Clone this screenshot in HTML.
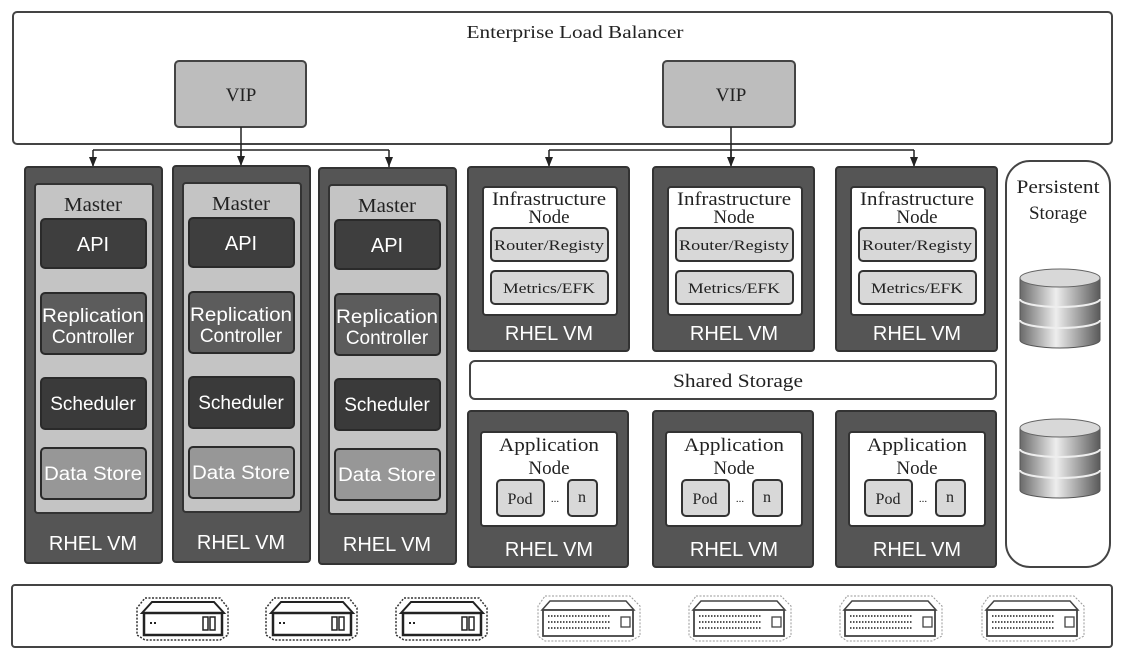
<!DOCTYPE html>
<html><head><meta charset="utf-8"><style>
body{margin:0;background:#fff}
svg{display:block}
.s{font-family:"Liberation Serif",serif;fill:#222}
.a{font-family:"Liberation Sans",sans-serif;fill:#fff}
</style></head><body>
<svg width="1135" height="667" viewBox="0 0 1135 667" xmlns="http://www.w3.org/2000/svg">
<defs>
<marker id="ar" markerWidth="10" markerHeight="8" refX="10" refY="4" orient="auto" markerUnits="userSpaceOnUse">
<path d="M0,0 L10,4 L0,8 Z" fill="#222"/></marker>
<linearGradient id="cy" x1="0" x2="1">
<stop offset="0" stop-color="#6a6a6a"/><stop offset="0.45" stop-color="#eeeeee"/><stop offset="1" stop-color="#5a5a5a"/></linearGradient>
</defs>
<!-- top LB -->
<rect x="13" y="12" width="1099" height="132" rx="4" fill="#fff" stroke="#444" stroke-width="2"/>
<text x="575" y="38" text-anchor="middle" class="s" font-size="18" textLength="217" lengthAdjust="spacingAndGlyphs">Enterprise Load Balancer</text>
<rect x="175" y="61" width="131" height="66" rx="4" fill="#bdbdbd" stroke="#444" stroke-width="2"/>
<text x="241" y="101" text-anchor="middle" class="s" font-size="19">VIP</text>
<rect x="663" y="61" width="132" height="66" rx="4" fill="#bdbdbd" stroke="#444" stroke-width="2"/>
<text x="731" y="101" text-anchor="middle" class="s" font-size="19">VIP</text>
<g stroke="#222" stroke-width="1.5" fill="none">
<path d="M241 127 V158"/><path d="M93 150 H389"/>
<path d="M93 150 V167" marker-end="url(#ar)"/><path d="M241 150 V166" marker-end="url(#ar)"/><path d="M389 150 V167" marker-end="url(#ar)"/>
<path d="M731 127 V158"/><path d="M549 150 H914"/>
<path d="M549 150 V167" marker-end="url(#ar)"/><path d="M731 150 V167" marker-end="url(#ar)"/><path d="M914 150 V167" marker-end="url(#ar)"/>
</g>
<!-- master VMs -->
<g id="m">
<rect x="25" y="167" width="137" height="396" rx="3" fill="#555" stroke="#333" stroke-width="2"/>
<rect x="35" y="184" width="118" height="329" rx="3" fill="#c4c4c4" stroke="#333" stroke-width="2"/>
<text x="93" y="211" text-anchor="middle" class="s" font-size="20" textLength="58" lengthAdjust="spacingAndGlyphs">Master</text>
<rect x="41" y="219" width="105" height="49" rx="4" fill="#3e3e3e" stroke="#2a2a2a" stroke-width="2"/>
<text x="93" y="251" text-anchor="middle" class="a" font-size="20">API</text>
<rect x="41" y="293" width="105" height="61" rx="4" fill="#5c5c5c" stroke="#2a2a2a" stroke-width="2"/>
<text x="93" y="322" text-anchor="middle" class="a" font-size="19" textLength="102" lengthAdjust="spacingAndGlyphs">Replication</text>
<text x="93" y="343" text-anchor="middle" class="a" font-size="19">Controller</text>
<rect x="41" y="378" width="105" height="51" rx="4" fill="#3a3a3a" stroke="#2a2a2a" stroke-width="2"/>
<text x="93" y="410" text-anchor="middle" class="a" font-size="19">Scheduler</text>
<rect x="41" y="448" width="105" height="51" rx="4" fill="#979797" stroke="#2a2a2a" stroke-width="2"/>
<text x="93" y="480" text-anchor="middle" class="a" font-size="19" textLength="98" lengthAdjust="spacingAndGlyphs">Data Store</text>
<text x="93" y="550" text-anchor="middle" class="a" font-size="20">RHEL VM</text>
</g>
<use href="#m" x="148" y="-1"/>
<use href="#m" x="294" y="1"/>
<!-- infra VMs -->
<g id="i">
<rect x="468" y="167" width="161" height="184" rx="3" fill="#555" stroke="#333" stroke-width="2"/>
<rect x="483" y="187" width="134" height="128" rx="3" fill="#fff" stroke="#333" stroke-width="2"/>
<text x="549" y="205" text-anchor="middle" class="s" font-size="19" textLength="114" lengthAdjust="spacingAndGlyphs">Infrastructure</text>
<text x="549" y="223" text-anchor="middle" class="s" font-size="19">Node</text>
<rect x="491" y="228" width="117" height="33" rx="4" fill="#d8d8d8" stroke="#333" stroke-width="2"/>
<text x="549" y="250" text-anchor="middle" class="s" font-size="15" textLength="110" lengthAdjust="spacingAndGlyphs">Router/Registy</text>
<rect x="491" y="271" width="117" height="33" rx="4" fill="#d8d8d8" stroke="#333" stroke-width="2"/>
<text x="549" y="293" text-anchor="middle" class="s" font-size="15" textLength="92" lengthAdjust="spacingAndGlyphs">Metrics/EFK</text>
<text x="549" y="340" text-anchor="middle" class="a" font-size="20">RHEL VM</text>
</g>
<use href="#i" x="185"/>
<use href="#i" x="368"/>
<!-- shared storage -->
<rect x="470" y="361" width="526" height="38" rx="5" fill="#fff" stroke="#444" stroke-width="2"/>
<text x="738" y="387" text-anchor="middle" class="s" font-size="19" textLength="130" lengthAdjust="spacingAndGlyphs">Shared Storage</text>
<!-- app VMs -->
<g id="p">
<rect x="468" y="411" width="160" height="156" rx="3" fill="#555" stroke="#333" stroke-width="2"/>
<rect x="481" y="432" width="136" height="94" rx="3" fill="#fff" stroke="#333" stroke-width="2"/>
<text x="549" y="451" text-anchor="middle" class="s" font-size="19" textLength="100" lengthAdjust="spacingAndGlyphs">Application</text>
<text x="549" y="474" text-anchor="middle" class="s" font-size="19">Node</text>
<rect x="497" y="480" width="47" height="36" rx="4" fill="#d8d8d8" stroke="#333" stroke-width="2"/>
<text x="520" y="504" text-anchor="middle" class="s" font-size="16">Pod</text>
<text x="555" y="502" text-anchor="middle" class="s" font-size="11">...</text>
<rect x="568" y="480" width="29" height="36" rx="4" fill="#d8d8d8" stroke="#333" stroke-width="2"/>
<text x="582" y="502" text-anchor="middle" class="s" font-size="16">n</text>
<text x="549" y="556" text-anchor="middle" class="a" font-size="20">RHEL VM</text>
</g>
<use href="#p" x="185"/>
<use href="#p" x="368"/>
<!-- persistent storage -->
<rect x="1006" y="161" width="104" height="406" rx="24" fill="#fff" stroke="#444" stroke-width="2"/>
<text x="1058" y="193" text-anchor="middle" class="s" font-size="19" textLength="83" lengthAdjust="spacingAndGlyphs">Persistent</text>
<text x="1058" y="219" text-anchor="middle" class="s" font-size="19">Storage</text>
<g id="c">
<path d="M1020 278 V340 A40 8 0 0 0 1100 340 V278 Z" fill="url(#cy)" stroke="#555"/>
<path d="M1020 299 A40 8 0 0 0 1100 299 M1020 320 A40 8 0 0 0 1100 320" fill="none" stroke="#eee" stroke-width="2"/>
<ellipse cx="1060" cy="278" rx="40" ry="9" fill="#d8d8d8" stroke="#666"/>
</g>
<use href="#c" y="150"/>
<!-- bottom hardware -->
<rect x="12" y="585" width="1100" height="62" rx="3" fill="#fff" stroke="#444" stroke-width="2"/>
<g id="sv">
<path d="M145 598 L220 598 L228 608 L228 635 L220 640 L145 640 L137 635 L137 608 Z" fill="none" stroke="#333" stroke-width="1.5" stroke-dasharray="2,1.5"/>
<path d="M142 613 L152 602 L214 602 L224 613 Z" fill="#fff" stroke="#222" stroke-width="2"/>
<rect x="144" y="613" width="78" height="22" fill="#fff" stroke="#222" stroke-width="2.5"/>
<rect x="150" y="622" width="2" height="2" fill="#222"/><rect x="154" y="622" width="2" height="2" fill="#222"/>
<rect x="203" y="617" width="5" height="13" fill="none" stroke="#222" stroke-width="1.5"/>
<rect x="210" y="617" width="5" height="13" fill="none" stroke="#222" stroke-width="1.5"/>
</g>
<use href="#sv" x="129"/>
<use href="#sv" x="259"/>
<g id="sw">
<path d="M545 596 L630 596 L640 606 L640 636 L630 641 L545 641 L538 636 L538 606 Z" fill="none" stroke="#999" stroke-width="1" stroke-dasharray="2,1.5"/>
<path d="M542 610 L550 601 L626 601 L634 610 Z" fill="#fff" stroke="#444" stroke-width="1.5"/>
<rect x="543" y="610" width="90" height="26" fill="#fff" stroke="#444" stroke-width="1.8"/>
<g stroke="#555" stroke-width="2" stroke-dasharray="1.5,1.5">
<path d="M548 616 H610 M548 622 H610 M548 628 H610"/></g>
<rect x="621" y="617" width="9" height="10" fill="none" stroke="#444" stroke-width="1.3"/>
</g>
<use href="#sw" x="151"/>
<use href="#sw" x="302"/>
<use href="#sw" x="444"/>
</svg>
</body></html>
